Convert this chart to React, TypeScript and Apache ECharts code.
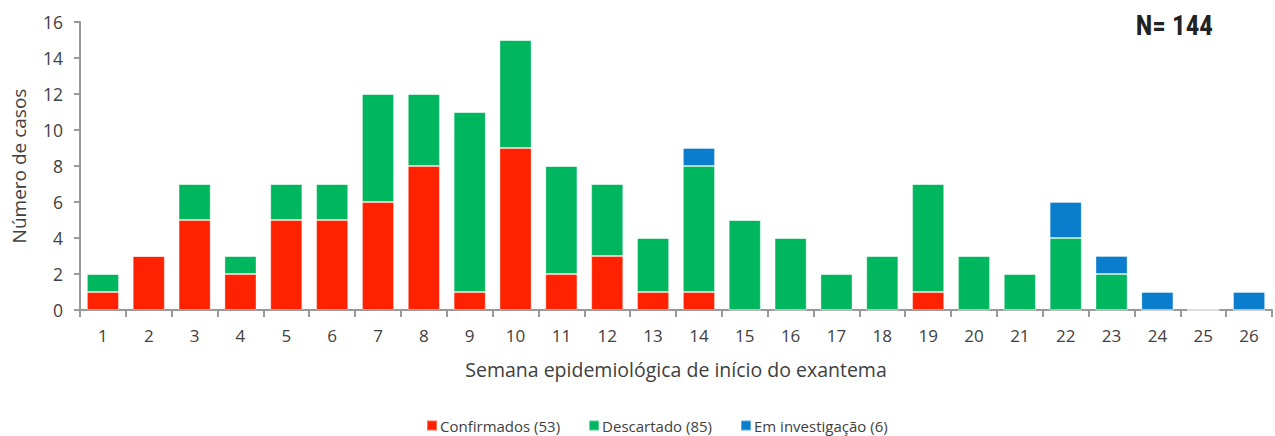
import React, { useEffect, useRef } from "react";
import * as echarts from "echarts";

const weeks = ["1","2","3","4","5","6","7","8","9","10","11","12","13","14","15","16","17","18","19","20","21","22","23","24","25","26"];
const confirmados = [1,3,5,2,5,5,6,8,1,9,2,3,1,1,0,0,0,0,1,0,0,0,0,0,0,0];
const descartado = [1,0,2,1,2,2,6,4,10,6,6,4,3,7,5,4,2,3,6,3,2,4,2,0,0,0];
const investigacao = [0,0,0,0,0,0,0,0,0,0,0,0,0,1,0,0,0,0,0,0,0,2,1,1,0,1];
const yTicks = [0, 16, 2];

export default function App() {
  const ref = useRef<HTMLDivElement>(null);
  useEffect(() => {
    const chart = echarts.init(ref.current!, null, { renderer: "svg" });
    const font = "'Open Sans', 'Noto Sans', sans-serif";
    const barStyle = (color: string) => ({ color, borderColor: "rgba(255,255,255,0.35)", borderWidth: 1 });
    chart.setOption({
      animation: false,
      textStyle: { fontFamily: font },
      grid: { left: 80, right: 3, top: 22, bottom: 126 },
      graphic: [
        {
          type: "text",
          right: 62,
          top: 12,
          style: { text: "N= 144", font: "bold 27px 'Roboto Condensed', Roboto, sans-serif", fill: "#222" },
        },
      ],
      legend: {
        bottom: -2,
        left: 421,
        itemWidth: 10,
        itemHeight: 10,
        itemGap: 28,
        icon: "rect",
        textStyle: { fontSize: 15, color: "#404040", fontFamily: font, padding: [0, 0, 0, -2] },
        data: ["Confirmados (53)", "Descartado (85)", "Em investigação (6)"],
      },
      xAxis: {
        type: "category",
        data: weeks,
        name: "Semana epidemiológica de início do exantema",
        nameLocation: "middle",
        nameGap: 49,
        nameTextStyle: { fontSize: 19.5, color: "#404040", fontFamily: font },
        axisLine: { lineStyle: { color: "#999", width: 2 } },
        axisTick: { show: true, length: 7, lineStyle: { color: "#999", width: 2 } },
        axisLabel: { fontSize: 17, color: "#404040", margin: 17 },
      },
      yAxis: {
        type: "value",
        min: yTicks[0],
        max: yTicks[1],
        interval: yTicks[2],
        name: "Número de casos",
        nameLocation: "middle",
        nameGap: 52,
        nameTextStyle: { fontSize: 19, color: "#404040", fontFamily: font },
        axisLine: { show: true, lineStyle: { color: "#999", width: 2 } },
        axisTick: { show: true, length: 6, lineStyle: { color: "#999", width: 2 } },
        axisLabel: { fontSize: 17.5, color: "#404040", margin: 17 },
        splitLine: { show: false },
      },
      series: [
        { name: "Confirmados (53)", type: "bar", stack: "a", data: confirmados, barWidth: "70%", itemStyle: barStyle("#FF2200") },
        { name: "Descartado (85)", type: "bar", stack: "a", data: descartado, itemStyle: barStyle("#00B760") },
        { name: "Em investigação (6)", type: "bar", stack: "a", data: investigacao, itemStyle: barStyle("#0A7DCC") },
      ],
    });
    return () => chart.dispose();
  }, []);
  return <div ref={ref} style={{ width: 1275, height: 436, position: "absolute", left: 0, top: 0 }} />;
}
